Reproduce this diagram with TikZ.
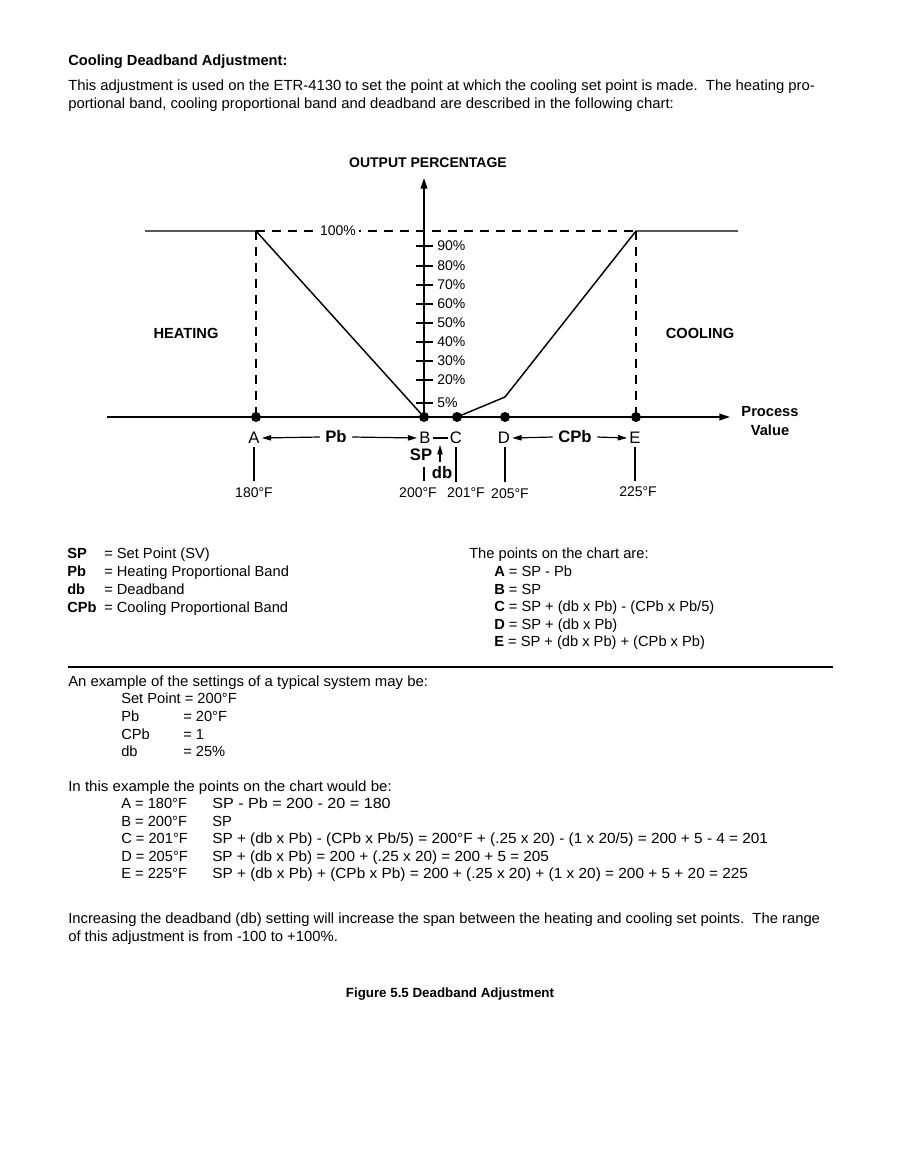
\documentclass[tikz,border=0pt]{standalone}
\usepackage{fontspec}
\usepackage{graphicx}
\setmainfont{Liberation Sans}
\usetikzlibrary{arrows.meta}
\tikzset{
  txt/.style={anchor=base west, inner sep=0pt, font=\fontsize{11}{13}\selectfont},
  ctxt/.style={anchor=base, inner sep=0pt, font=\fontsize{11}{13}\selectfont},
  lbl/.style={inner sep=0pt, font=\fontsize{10.5}{12}\selectfont},
  pct/.style={anchor=west, inner sep=0pt, font=\fontsize{10.5}{12}\selectfont},
  big/.style={inner sep=1.5pt, font=\fontsize{12.5}{14}\selectfont},
  bigb/.style={inner sep=1.5pt, font=\bfseries\fontsize{12.5}{14}\selectfont},
  dot/.style={circle, fill=black, inner sep=0pt, minimum size=7.5pt},
  axis/.style={line width=1.3pt},
  curve/.style={line width=1.1pt},
  dsh/.style={line width=1.1pt, dash pattern=on 7pt off 5pt},
  arr/.style={line width=0.9pt, -{Triangle[length=7pt,width=4pt]}},
  tick/.style={line width=1.1pt},
}
\begin{document}
\begin{tikzpicture}[x=0.75pt,y=-0.75pt]
\useasboundingbox[fill=white] (0,0) rectangle (900,1165);

% ---------- heading ----------
\node[txt, font=\bfseries\fontsize{11}{13}\selectfont] (title) at (68,65) {Cooling Deadband Adjustment:};
\node[txt] (p1) at (68,90) {\scalebox{1.012}[1]{This adjustment is used on the ETR-4130 to set the point at which the cooling set point is made.\ \ The heating pro-}};
\node[txt] (p2) at (68,108) {\scalebox{1.012}[1]{portional band, cooling proportional band and deadband are described in the following chart:}};

% ---------- chart ----------
\coordinate (xl) at (107,417);
\coordinate (xr) at (730,417);
\coordinate (yb) at (424,417);
\coordinate (yt) at (424,178);
\coordinate (topL) at (145,231);
\coordinate (topA) at (256,231);
\coordinate (topE) at (636,231);
\coordinate (topR) at (738,231);
\coordinate (kink) at (505,397);

\node[inner sep=0pt, font=\bfseries\fontsize{10.5}{12}\selectfont] (out) at (428,163) {OUTPUT PERCENTAGE};

\draw[dsh] (topA) -- (topE);
\node[fill=white, inner sep=2pt, font=\fontsize{10.5}{12}\selectfont] (hundred) at (338,231) {100\%};
\draw[dsh] (topA) -- (256,417);
\draw[dsh] (topE) -- (636,417);

\draw[axis, -{Triangle[length=8pt,width=5pt]}] (xl) -- (xr);
\draw[axis, -{Triangle[length=8pt,width=5pt]}] (yb) -- (yt);

\draw[curve] (topL) -- (topA) -- (yb);
\draw[curve] (457,417) -- (kink) -- (topE) -- (topR);

% ticks
\foreach \yy/\tt in {246/90,266/80,285/70,304/60,323/50,342/40,361/30,380/20,403/5}{
  \draw[tick] (416,\yy) -- (433,\yy);
  \node[pct] (t\tt) at (437,\yy) {\tt\%};
}

\node[dot] (A) at (256,417) {};
\node[dot] (B) at (424,417) {};
\node[dot] (C) at (457,417) {};
\node[dot] (D) at (505,417) {};
\node[dot] (E) at (636,417) {};

\node[inner sep=0pt, font=\bfseries\fontsize{11}{13}\selectfont] (heat) at (186,333) {HEATING};
\node[inner sep=0pt, font=\bfseries\fontsize{11}{13}\selectfont] (cool) at (700,333) {COOLING};
\node[inner sep=0pt, align=center, font=\bfseries\fontsize{11}{14}\selectfont] (pv) at (770,421) {Process\\Value};

% letters below axis
\node[big] (lA) at (254,438) {A};
\node[big] (lB) at (425,438) {B};
\node[big] (lC) at (456,438) {C};
\node[big] (lD) at (504,438) {D};
\node[big] (lE) at (635,438) {E};
\node[bigb, inner sep=4pt] (Pb) at (336,437) {Pb};
\node[bigb, inner sep=4pt] (CPb) at (575,437) {CPb};
\draw[arr] (Pb.west) -- (lA.east);
\draw[arr] (Pb.east) -- (lB.west);
\draw[arr] (CPb.west) -- (lD.east);
\draw[arr] (CPb.east) -- (lE.west);
\draw[line width=0.9pt] (lB.east) -- (lC.west);

\node[bigb, inner sep=0pt] (SP) at (421,455) {SP};
\node[bigb, inner sep=0pt] (db) at (442,473) {db};
\coordinate (dbS) at (440,462);
\coordinate (dbE) at (440,445);
\draw[arr] (dbS) -- (dbE);

% temperatures
\node[lbl] (T180) at (254,493) {180°F};
\node[lbl] (T200) at (418,493) {200°F};
\node[lbl] (T201) at (466,493) {201°F};
\node[lbl] (T205) at (510,494) {205°F};
\node[lbl] (T225) at (638,492) {225°F};
\draw[line width=0.9pt] (254,447) -- (254,481);
\draw[line width=0.9pt] (424,467) -- (424,481);
\draw[line width=0.9pt] (456,447) -- (456,482);
\draw[line width=0.9pt] (505,447) -- (505,482);
\draw[line width=0.9pt] (635,447) -- (635,481);

% ---------- legend ----------
\node[txt, font=\bfseries\fontsize{11}{13}\selectfont] (kSP) at (67,558) {SP};
\node[txt, font=\bfseries\fontsize{11}{13}\selectfont] (kPb) at (67,576) {Pb};
\node[txt, font=\bfseries\fontsize{11}{13}\selectfont] (kdb) at (67,594) {db};
\node[txt, font=\bfseries\fontsize{11}{13}\selectfont] (kCPb) at (67,612) {CPb};
\node[txt] (vSP) at (104,558) {= Set Point (SV)};
\node[txt] (vPb) at (104,576) {= Heating Proportional Band};
\node[txt] (vdb) at (104,594) {= Deadband};
\node[txt] (vCPb) at (104,612) {= Cooling Proportional Band};

\node[txt] (pts) at (469,558) {The points on the chart are:};
\node[txt] (pA) at (494,576) {\textbf{A} = SP - Pb};
\node[txt] (pB) at (494,594) {\textbf{B} = SP};
\node[txt] (pC) at (494,611) {\textbf{C} = SP + (db x Pb) - (CPb x Pb/5)};
\node[txt] (pD) at (494,629) {\textbf{D} = SP + (db x Pb)};
\node[txt] (pE) at (494,646) {\textbf{E} = SP + (db x Pb) + (CPb x Pb)};

\coordinate (ruleL) at (68,667);
\coordinate (ruleR) at (833,667);
\draw[line width=1.5pt] (ruleL) -- (ruleR);

% ---------- example ----------
\node[txt] (ex) at (68,686) {\scalebox{1.017}[1]{An example of the settings of a typical system may be:}};
\node[txt] (s1) at (121,703) {Set Point = 200°F};
\node[txt] (s2) at (121,721) {Pb};
\node[txt] (s3) at (121,739) {CPb};
\node[txt] (s4) at (121,756) {db};
\node[txt] (s2v) at (183,721) {= 20°F};
\node[txt] (s3v) at (183,739) {= 1};
\node[txt] (s4v) at (183,756) {= 25\%};

\node[txt] (ex2) at (68,791) {\scalebox{1.028}[1]{In this example the points on the chart would be:}};
\node[txt] (rA) at (121,808) {A = 180°F};
\node[txt] (rB) at (121,826) {B = 200°F};
\node[txt] (rC) at (121,843) {C = 201°F};
\node[txt] (rD) at (121,861) {D = 205°F};
\node[txt] (rE) at (121,878) {E = 225°F};
\node[txt] (fA) at (212,808) {\scalebox{1.1}[1]{SP - Pb = 200 - 20 = 180}};
\node[txt] (fB) at (212,826) {SP};
\node[txt] (fC) at (212,843) {\scalebox{1.047}[1]{SP + (db x Pb) - (CPb x Pb/5) = 200°F + (.25 x 20) - (1 x 20/5) = 200 + 5 - 4 = 201}};
\node[txt] (fD) at (212,861) {\scalebox{1.043}[1]{SP + (db x Pb) = 200 + (.25 x 20) = 200 + 5 = 205}};
\node[txt] (fE) at (212,878) {\scalebox{1.049}[1]{SP + (db x Pb) + (CPb x Pb) = 200 + (.25 x 20) + (1 x 20) = 200 + 5 + 20 = 225}};

\node[txt] (inc1) at (68,923) {\scalebox{1.01}[1]{Increasing the deadband (db) setting will increase the span between the heating and cooling set points.\ \ The range}};
\node[txt] (inc2) at (68,941) {\scalebox{1.01}[1]{of this adjustment is from -100 to +100\%.}};

\node[ctxt, font=\bfseries\fontsize{10}{12}\selectfont] (cap) at (450,997) {Figure 5.5 Deadband Adjustment};
\end{tikzpicture}
\end{document}
